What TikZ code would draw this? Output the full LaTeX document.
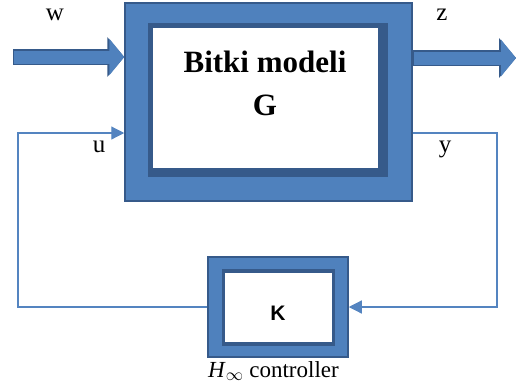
\documentclass[tikz,border=0pt]{standalone}
\usepackage{fontspec}
\setmainfont{Liberation Serif}
\newfontfamily\kfont{Liberation Sans}
\usetikzlibrary{arrows.meta,calc,positioning}
\definecolor{boxblue}{RGB}{79,129,189}
\definecolor{edgeblue}{RGB}{54,90,138}
\definecolor{lineblue}{RGB}{84,132,192}
\tikzset{
  signal/.style={-{Triangle[length=13pt,width=13pt]}, line width=1.2pt, draw=lineblue},
  bigedge/.style={-{Triangle[length=17pt,width=39pt]}, line width=15.5pt, draw=edgeblue},
  bigarrow/.style={-{Triangle[length=15pt,width=36pt]}, line width=13pt, draw=boxblue, shorten <=1.3pt},
  outerbox/.style={draw=edgeblue, line width=1.5pt, fill=boxblue, rectangle, inner sep=0pt},
  frame/.style={fill=edgeblue, rectangle, inner sep=0pt},
  whitebox/.style={fill=white, rectangle, inner sep=0pt},
  lbl/.style={font=\rmfamily\fontsize{25}{30}\selectfont, inner sep=0pt},
  title/.style={font=\rmfamily\bfseries\fontsize{31}{37}\selectfont, inner sep=0pt}
}
\begin{document}
\begin{tikzpicture}[x=1pt,y=-1pt]
  \useasboundingbox (0,0) rectangle (517,389);
  % plant
  \node[outerbox, minimum width=287pt, minimum height=198pt] (plant) at (268.5,102) {};
  \node[frame, minimum width=240pt, minimum height=154pt] (plantframe) at (268,100) {};
  \node[whitebox, minimum width=225pt, minimum height=140pt] (plantin) at (265.5,98) {};
  \node[title, anchor=base] (plantname) at (265,72) {Bitki modeli};
  \node[title, anchor=base] (plantsym) at (265,115) {G};

  % controller
  \node[outerbox, minimum width=140pt, minimum height=100pt] (ctrl) at (278,307) {};
  \node[whitebox, draw=edgeblue, line width=3.5pt, minimum width=110pt, minimum height=73pt] (ctrlin) at (278.5,307.5) {};
  \node[font=\kfont\bfseries\fontsize{21}{25}\selectfont, anchor=base, inner sep=0pt] (ctrlsym) at (278,320) {K};
  \node[font=\rmfamily\fontsize{23}{27}\selectfont, anchor=base, inner sep=0pt] (ctrlname) at (273.5,377) {\textit{H}$_\infty$ controller};

  \node[lbl, anchor=base] (wlbl) at (55,20) {w};
  \node[lbl, anchor=base] (zlbl) at (442,20) {z};
  \node[lbl, anchor=base] (ulbl) at (99,152) {u};
  \node[lbl, anchor=base] (ylbl) at (445,152) {y};

  \coordinate (wstart) at (13,57);
  \coordinate (zend) at (516,58);
  \coordinate (uy) at (0,133);
  \coordinate (ux) at (18,0);
  \coordinate (yx) at (497,0);

  \draw[bigedge] (wstart) -- (wstart -| plant.west);
  \draw[bigarrow] (wstart) -- (wstart -| plant.west);
  \draw[bigedge] (plant.east |- zend) -- (zend);
  \draw[bigarrow] (plant.east |- zend) -- (zend);

  \draw[signal] (ctrl.west) -| (ux |- uy) -- (plant.west |- uy);
  \draw[signal] (plant.east |- uy) -| (yx |- ctrl.east) -- (ctrl.east);
\end{tikzpicture}
\end{document}
